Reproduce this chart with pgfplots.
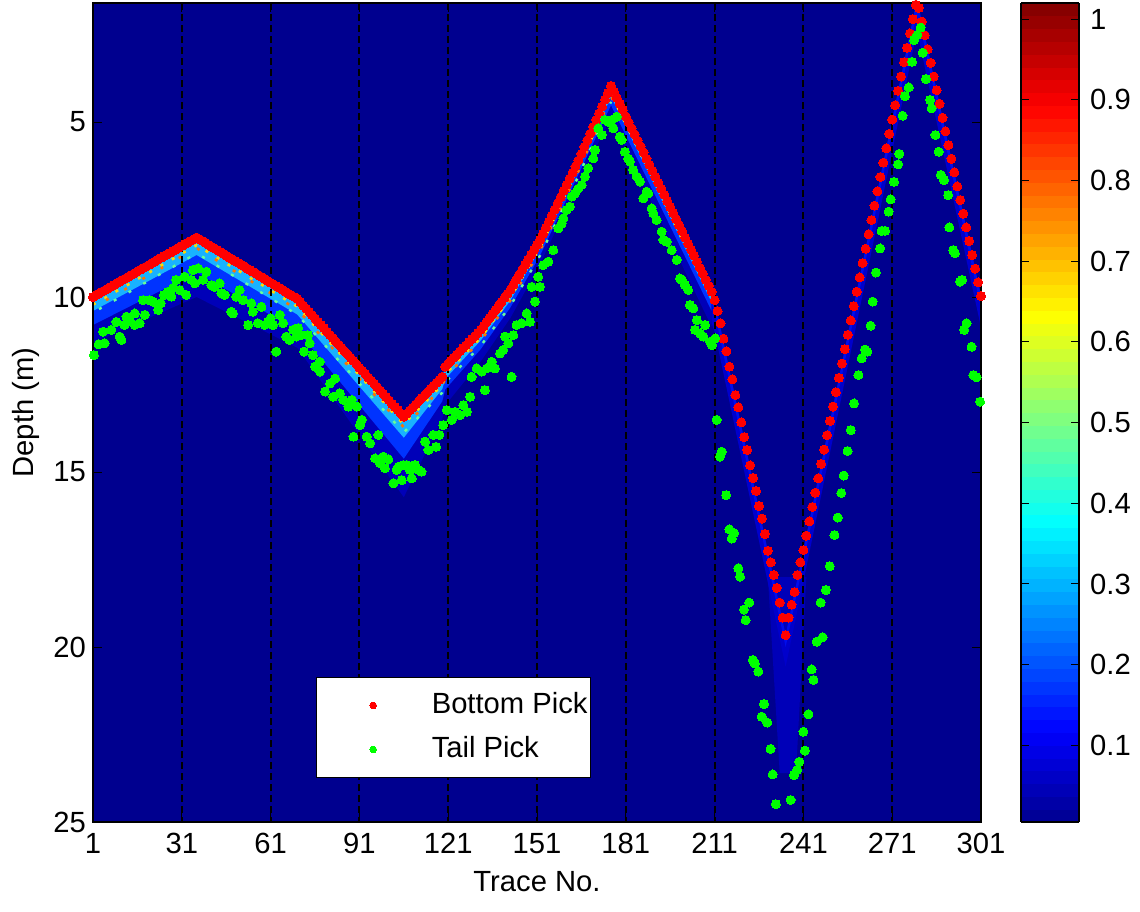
\documentclass[border=0pt]{standalone}
\usepackage{pgfplots}
\pgfplotsset{compat=1.18}
\usepackage{pgfplotstable}
\usepackage{fontspec}
\setmainfont{Liberation Sans}
\definecolor{jbg}{rgb}{0,0,0.5625}
\definecolor{hA}{rgb}{0,0,0.72}
\definecolor{hB}{rgb}{0,0.2,1}
\definecolor{hC}{rgb}{0.1,0.7,1}
\definecolor{hY}{rgb}{1,0.85,0}
\definecolor{hO}{rgb}{1,0.45,0}
\definecolor{hG}{rgb}{0.4,1,0.6}
\definecolor{hV}{rgb}{0,0,0.8}
\definecolor{hV2}{rgb}{0,0.05,0.93}
\newcommand{\fs}{\fontsize{14.6}{17}\selectfont}

\pgfplotstableread{
t d
1 10.00
2 9.95
3 9.90
4 9.85
5 9.81
6 9.76
7 9.71
8 9.66
9 9.61
10 9.56
11 9.51
12 9.47
13 9.42
14 9.37
15 9.32
16 9.27
17 9.22
18 9.17
19 9.13
20 9.08
21 9.03
22 8.98
23 8.93
24 8.88
25 8.83
26 8.79
27 8.74
28 8.69
29 8.64
30 8.59
31 8.54
32 8.49
33 8.45
34 8.40
35 8.35
36 8.30
37 8.35
38 8.40
39 8.45
40 8.51
41 8.56
42 8.61
43 8.66
44 8.71
45 8.76
46 8.82
47 8.87
48 8.92
49 8.97
50 9.02
51 9.07
52 9.12
53 9.18
54 9.23
55 9.28
56 9.33
57 9.38
58 9.43
59 9.48
60 9.54
61 9.59
62 9.64
63 9.69
64 9.74
65 9.79
66 9.85
67 9.90
68 9.95
69 10.00
70 10.05
71 10.14
72 10.24
73 10.33
74 10.42
75 10.52
76 10.61
77 10.71
78 10.80
79 10.89
80 10.99
81 11.08
82 11.17
83 11.27
84 11.36
85 11.45
86 11.55
87 11.64
88 11.73
89 11.83
90 11.92
91 12.02
92 12.11
93 12.20
94 12.30
95 12.39
96 12.48
97 12.58
98 12.67
99 12.76
100 12.86
101 12.95
102 13.05
103 13.14
104 13.23
105 13.33
106 13.42
107 13.33
108 13.24
109 13.16
110 13.07
111 12.98
112 12.89
113 12.81
114 12.72
115 12.63
116 12.54
117 12.46
118 12.37
119 12.28
120 11.99
121 11.90
122 11.81
123 11.73
124 11.64
125 11.55
126 11.46
127 11.38
128 11.29
129 11.20
130 11.12
131 11.03
132 10.94
133 10.83
134 10.71
135 10.60
136 10.48
137 10.37
138 10.26
139 10.14
140 10.03
141 9.91
142 9.80
143 9.66
144 9.51
145 9.37
146 9.23
147 9.09
148 8.94
149 8.80
150 8.66
151 8.51
152 8.37
153 8.20
154 8.02
155 7.85
156 7.67
157 7.50
158 7.32
159 7.15
160 6.97
161 6.80
162 6.62
163 6.45
164 6.27
165 6.10
166 5.91
167 5.71
168 5.52
169 5.33
170 5.14
171 4.94
172 4.75
173 4.56
174 4.36
175 4.17
176 3.97
177 4.14
178 4.32
179 4.49
180 4.66
181 4.84
182 5.01
183 5.18
184 5.35
185 5.53
186 5.70
187 5.87
188 6.05
189 6.22
190 6.39
191 6.57
192 6.74
193 6.91
194 7.08
195 7.26
196 7.43
197 7.60
198 7.78
199 7.95
200 8.12
201 8.30
202 8.47
203 8.64
204 8.81
205 8.99
206 9.16
207 9.33
208 9.51
209 9.68
210 9.85
211 10.09
212 10.40
213 10.75
214 11.19
215 11.55
216 11.99
217 12.35
218 12.80
219 13.15
220 13.58
221 14.00
222 14.37
223 14.81
224 15.17
225 15.54
226 15.97
227 16.33
228 16.77
229 17.25
230 17.58
231 17.94
232 18.31
233 18.73
234 19.16
235 19.66
236 19.16
237 18.79
238 18.43
239 17.94
240 17.58
241 17.23
242 16.82
243 16.41
244 16.00
245 15.59
246 15.18
247 14.77
248 14.36
249 13.95
250 13.54
251 13.13
252 12.72
253 12.31
254 11.90
255 11.49
256 11.08
257 10.67
258 10.26
259 9.85
260 9.44
261 9.03
262 8.62
263 8.21
264 7.80
265 7.39
266 6.98
267 6.57
268 6.16
269 5.75
270 5.34
271 4.93
272 4.52
273 4.11
274 3.70
275 3.29
276 2.88
277 2.47
278 2.06
279 1.65
280 1.74
281 2.13
282 2.52
283 2.92
284 3.31
285 3.70
286 4.09
287 4.48
288 4.88
289 5.27
290 5.66
291 6.05
292 6.44
293 6.84
294 7.23
295 7.62
296 8.01
297 8.40
298 8.80
299 9.19
300 9.58
301 9.97
}\redtab

\pgfplotstableread{
t d
1.3 11.66
2.9 11.35
4.9 11.32
4.4 10.99
7.2 10.94
8.9 10.71
10.0 11.13
10.6 11.23
12.3 10.56
13.4 10.66
11.7 10.80
15.1 10.47
15.1 10.80
16.8 10.75
18.5 10.51
17.9 10.09
20.1 10.09
21.3 10.13
23.0 10.37
23.9 10.18
25.0 9.94
26.3 9.85
27.5 9.99
28.0 9.75
29.1 9.51
30.3 9.80
32.0 9.42
32.5 9.94
34.2 9.51
35.4 9.61
34.8 9.23
36.5 9.18
38.2 9.51
39.3 9.28
41.0 9.66
42.1 9.71
43.8 9.61
44.4 9.89
45.5 9.94
47.7 10.42
48.3 10.47
49.4 9.99
50.5 9.80
51.7 10.09
54.5 10.18
55.0 10.42
53.4 10.80
56.7 10.75
57.9 10.28
59.0 10.80
60.1 10.71
61.0 10.61
61.8 10.80
62.9 11.56
64.1 10.51
65.2 10.75
66.3 11.13
67.4 11.23
68.6 10.94
69.7 11.13
70.3 10.89
71.4 11.09
72.3 11.56
73.6 11.09
74.2 11.32
75.3 11.66
76.0 11.99
77.6 11.85
77.7 12.13
81.1 12.47
82.8 12.33
79.4 12.70
82.2 12.85
84.4 12.75
85.6 12.94
88.4 12.94
87.3 13.13
90.1 13.13
91.8 13.51
91.2 13.66
89.0 13.99
93.5 13.99
94.6 14.18
97.4 13.94
96.3 14.61
99.1 14.56
100.8 14.64
98.0 14.75
99.6 14.89
102.5 15.32
103.6 14.94
104.2 14.85
105.3 15.23
105.8 14.80
107.0 14.80
108.7 15.18
108.1 14.94
109.8 14.80
110.9 14.94
112.0 14.99
113.2 14.13
114.3 14.37
116.0 13.94
116.9 14.28
118.0 13.94
119.3 13.66
120.5 13.23
122.2 13.51
123.3 13.28
125.0 13.37
126.1 13.09
127.3 13.28
128.4 12.85
128.9 12.28
130.6 12.04
132.3 12.13
133.4 12.66
134.0 12.04
135.7 11.85
136.8 12.04
138.5 11.61
139.6 11.51
140.2 11.13
141.3 11.32
142.4 12.28
143.0 11.09
144.1 10.80
145.8 10.75
147.5 10.47
148.6 10.71
150.3 10.13
149.2 9.71
151.4 9.42
152.0 9.71
153.1 9.09
154.8 8.99
156.5 8.66
158.2 8.04
159.3 7.90
159.9 7.75
161.0 7.51
162.1 7.42
162.7 7.13
163.8 7.04
165.0 6.90
166.1 6.80
167.2 6.56
168.3 6.32
170.0 6.04
170.6 5.80
171.7 5.18
172.9 5.37
174.0 4.94
175.1 4.99
176.2 4.94
176.8 5.18
177.9 4.85
179.0 5.42
179.6 5.51
180.7 5.85
181.8 6.04
182.4 6.13
183.5 6.37
184.7 6.56
185.8 6.70
186.9 7.18
188.0 6.99
188.6 7.04
189.7 7.47
190.3 7.61
191.4 7.80
193.1 8.13
193.7 8.37
194.8 8.42
196.5 8.66
198.2 8.94
199.3 9.47
199.9 9.51
201.0 9.66
202.1 9.80
202.7 10.23
203.8 10.32
205.0 10.66
204.4 10.94
206.1 11.04
207.2 11.13
207.8 10.80
209.5 11.28
210.1 11.37
211.2 11.18
211.7 13.51
212.8 14.56
213.4 14.42
214.9 15.66
216.0 16.64
216.8 16.90
217.6 16.75
219.0 17.75
219.6 17.99
222.7 18.73
220.9 18.93
221.5 19.23
223.9 20.37
224.6 20.47
225.8 20.70
227.7 21.63
226.9 21.99
228.8 22.16
229.9 22.91
230.6 23.64
231.7 24.49
236.7 24.37
237.8 23.66
238.9 23.51
239.6 23.28
241.5 22.96
241.0 22.42
242.7 21.92
244.4 20.94
243.8 20.64
245.5 19.85
247.5 19.72
246.8 18.73
248.6 18.37
249.9 17.69
251.5 16.80
252.6 16.30
253.8 15.60
254.6 15.10
255.9 14.40
257.0 13.80
258.1 13.04
259.6 12.23
260.7 11.75
261.8 11.50
262.6 11.56
263.7 10.82
264.4 10.13
265.5 9.30
266.9 8.61
267.4 8.11
268.6 8.11
269.8 7.56
270.5 7.21
271.6 6.71
273.0 6.21
273.4 5.91
274.5 4.82
275.3 4.26
276.6 4.01
277.7 3.28
278.4 2.66
279.5 2.51
280.6 2.30
281.3 3.02
282.4 3.77
283.8 4.37
284.3 4.61
285.6 5.37
286.7 5.85
287.4 6.51
288.5 6.66
289.9 7.09
290.3 8.01
291.6 8.66
292.2 8.75
293.9 9.56
294.6 9.51
295.3 10.94
296.1 10.75
297.8 11.42
298.4 12.23
299.5 12.29
300.7 12.99
}\greentab

\begin{document}
\begin{tikzpicture}
\begin{axis}[
  scale only axis, width=444pt, height=409.5pt,
  xmin=1, xmax=301, ymin=1.6, ymax=25, y dir=reverse,
  xtick={1,31,61,91,121,151,181,211,241,271,301}, ytick={5,10,15,20,25},
  tick align=inside, tick pos=both, major tick length=4.5pt,
  tick style={black, line width=0.5pt},
  xmajorgrids, grid style={black, dash pattern=on 3.5pt off 2pt, line width=1pt},
  axis on top,
  axis line style={line width=0.6pt},
  axis background/.style={fill=jbg},
  /pgf/number format/assume math mode=true,
  tick label style={font=\fs},
  xticklabel style={yshift=-2pt},
  label style={font=\fs},
  xlabel={Trace No.}, ylabel={Depth (m)},
  xlabel style={yshift=-2pt},
  colormap={mjet}{rgb(0pt)=(0,0,0.5625); rgb(7pt)=(0,0,1); rgb(23pt)=(0,1,1); rgb(39pt)=(1,1,0); rgb(55pt)=(1,0,0); rgb(63pt)=(0.5,0,0)},
  point meta min=0.005, point meta max=1.02,
  colorbar sampled,
  colorbar style={
    at={(parent axis.north east)}, anchor=north west, xshift=11.5pt,
    width=29pt, samples=65,
    ytick={0.1,0.2,0.3,0.4,0.5,0.6,0.7,0.8,0.9,1},
    yticklabels={0.1,0.2,0.3,0.4,0.5,0.6,0.7,0.8,0.9,1},
    yticklabel style={font=\fs, xshift=2pt},
    tick align=inside, ytick pos=both, yticklabel pos=right,
    major tick length=4pt, tick style={black, line width=0.5pt},
    axis line style={line width=0.6pt},
  },
  legend style={at={(0.2511,0.0537)}, anchor=south west, draw=black, fill=white,
    line width=0.6pt, inner xsep=1.5pt, inner ysep=3pt, font=\fs, row sep=0pt,
    nodes={inner xsep=0pt, inner ysep=0pt, text height=15pt, text depth=7pt}},
  legend cell align=left,
  legend image code/.code={\path (-26.5pt,0pt) (29pt,0pt); \draw[#1, mark size=1.7pt] plot coordinates {(0pt,0pt)};},
]
% heat band, left section
\addplot[forget plot, fill=hA, draw=none] coordinates {(1,10.00)(36,8.30)(70,10.05)(106,13.42)(119,12.28)(120,11.99)(132,10.94)(142,9.80)(152,8.37)(165,6.10)(176,3.97)(210,9.85)(210,10.85)(176,4.87)(165,6.70)(152,9.07)(142,10.60)(132,11.84)(120,13.09)(119,13.48)(106,15.72)(70,11.45)(36,10.00)(1,11.30)};
\addplot[forget plot, fill=hB, draw=none] coordinates {(1,10.00)(36,8.30)(70,10.05)(106,13.42)(119,12.28)(120,11.99)(132,10.94)(142,9.80)(152,8.37)(165,6.10)(176,3.97)(210,9.85)(210,10.40)(176,4.52)(165,6.50)(152,8.82)(142,10.30)(132,11.49)(120,12.64)(119,12.98)(106,14.62)(70,10.95)(36,9.30)(1,10.80)};
\addplot[forget plot, fill=hC, draw=none] coordinates {(1,10.00)(36,8.30)(70,10.05)(106,13.42)(119,12.28)(120,11.99)(132,10.94)(142,9.80)(152,8.37)(165,6.10)(176,3.97)(210,9.85)(210,10.15)(176,4.27)(165,6.35)(152,8.62)(142,10.10)(132,11.24)(120,12.34)(119,12.63)(106,14.02)(70,10.50)(36,8.80)(1,10.40)};
\addplot[forget plot, no markers, draw=hG, line width=1.2pt, dash pattern=on 1.5pt off 7pt, dash phase=5pt, restrict x to domain=1:176] table[x=t, y expr=\thisrow{d}+0.45] {\redtab};
\addplot[forget plot, no markers, draw=hY, line width=1.3pt, dash pattern=on 1.5pt off 5pt, restrict x to domain=1:200] table[x=t, y expr=\thisrow{d}+0.22] {\redtab};
\addplot[forget plot, no markers, draw=hO, line width=1.3pt, dash pattern=on 1.5pt off 9pt, dash phase=3pt, restrict x to domain=1:180] table[x=t, y expr=\thisrow{d}+0.3] {\redtab};
% heat band, V section
\addplot[forget plot, fill=hA, draw=none] coordinates {(229,18.0)(242,18.0)(238.5,23.6)(233,23.6)};
\addplot[forget plot, fill=hV, draw=none] coordinates {(210,9.85)(211,10.09)(235,19.66)(241,17.23)(279,1.65)(280,1.74)(301,9.97)(301,10.87)(280,2.64)(279,2.55)(241,18.13)(235,20.56)(211,10.99)(210,10.75)};
\addplot[forget plot, fill=hV2, draw=none] coordinates {(210,9.85)(211,10.09)(235,19.66)(241,17.23)(279,1.65)(280,1.74)(301,9.97)(301,10.32)(280,2.09)(279,2.0)(241,17.58)(235,20.0)(211,10.44)(210,10.2)};
% picks
\addplot[only marks, mark=*, color=red, mark size=2.25pt, mark options={draw=red, fill=red, line width=0pt}] table[x=t, y=d] {\redtab};
\addlegendentry{Bottom Pick}
\addplot[only marks, mark=*, color=green, mark size=2.25pt, mark options={draw=green, fill=green, line width=0pt}] table[x=t, y=d] {\greentab};
\addlegendentry{Tail Pick}
\end{axis}
\pgfresetboundingbox
\path[use as bounding box] (-46.5pt,-44.5pt) rectangle (523.5pt,411pt);
\end{tikzpicture}
\end{document}
